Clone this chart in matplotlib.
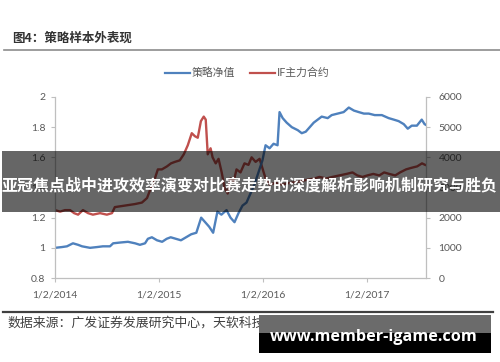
import matplotlib
matplotlib.use("Agg")
import matplotlib.pyplot as plt
import pandas as pd
from matplotlib.patches import Rectangle
from matplotlib.lines import Line2D

CJK = ['Noto Sans CJK SC', 'DejaVu Sans']
plt.rcParams['font.family'] = ['Lato', 'Noto Sans CJK SC', 'DejaVu Sans']

# ---- data -------------------------------------------------------------
nav_dates = [
    "2014-01-02", "2014-01-26", "2014-02-13", "2014-03-06", "2014-03-24", "2014-04-07",
    "2014-05-05", "2014-05-29", "2014-06-19", "2014-07-14", "2014-07-25", "2014-08-18",
    "2014-09-15", "2014-10-10", "2014-10-27", "2014-11-14", "2014-11-24", "2014-12-08",
    "2014-12-26", "2015-01-13", "2015-01-29", "2015-02-12", "2015-03-02", "2015-03-20",
    "2015-04-07", "2015-04-25", "2015-05-13", "2015-05-30", "2015-06-13", "2015-06-27",
    "2015-07-11", "2015-07-26", "2015-08-09", "2015-08-27", "2015-09-10", "2015-09-24",
    "2015-10-08", "2015-10-22", "2015-11-05", "2015-11-19", "2015-12-03", "2015-12-17",
    "2015-12-31", "2016-01-11", "2016-01-25", "2016-02-08", "2016-02-22", "2016-02-29",
    "2016-03-11", "2016-03-25", "2016-04-12", "2016-05-03", "2016-05-17", "2016-05-31",
    "2016-06-14", "2016-06-28", "2016-07-12", "2016-07-26", "2016-08-16", "2016-08-30",
    "2016-09-20", "2016-10-11", "2016-10-29", "2016-11-16", "2016-12-03", "2016-12-21",
    "2017-01-07", "2017-01-28", "2017-02-22", "2017-03-18", "2017-04-05", "2017-04-22",
    "2017-05-10", "2017-05-24", "2017-06-07", "2017-06-25", "2017-07-12", "2017-07-22",
    "2017-07-27",
]
nav_values = [
    1.00, 1.005, 1.01, 1.03, 1.02, 1.01,
    1.00, 1.005, 1.01, 1.01, 1.03, 1.035,
    1.04, 1.03, 1.02, 1.03, 1.06, 1.07,
    1.05, 1.04, 1.06, 1.07, 1.06, 1.05,
    1.07, 1.09, 1.10, 1.20, 1.17, 1.14,
    1.10, 1.24, 1.22, 1.25, 1.20, 1.17,
    1.23, 1.28, 1.30, 1.36, 1.42, 1.50,
    1.58, 1.68, 1.66, 1.69, 1.68, 1.90,
    1.86, 1.83, 1.80, 1.78, 1.76, 1.77,
    1.80, 1.83, 1.85, 1.87, 1.86, 1.88,
    1.89, 1.90, 1.93, 1.91, 1.90, 1.89,
    1.89, 1.88, 1.88, 1.86, 1.85, 1.84,
    1.82, 1.79, 1.81, 1.81, 1.85, 1.82,
    1.815,
]

if_dates = [
    "2014-01-02", "2014-01-20", "2014-02-06", "2014-02-24", "2014-03-10", "2014-03-24",
    "2014-04-10", "2014-04-28", "2014-05-15", "2014-06-09", "2014-07-03", "2014-07-21",
    "2014-07-31", "2014-09-04", "2014-10-09", "2014-11-03", "2014-11-21", "2014-12-01",
    "2014-12-12", "2014-12-22", "2014-12-29", "2015-01-12", "2015-01-30", "2015-02-13",
    "2015-02-27", "2015-03-16", "2015-03-30", "2015-04-13", "2015-04-27", "2015-05-08",
    "2015-05-18", "2015-05-29", "2015-06-08", "2015-06-15", "2015-06-22", "2015-07-02",
    "2015-07-09", "2015-07-20", "2015-07-30", "2015-08-10", "2015-08-20", "2015-08-31",
    "2015-09-10", "2015-09-21", "2015-10-01", "2015-10-15", "2015-10-29", "2015-11-12",
    "2015-11-23", "2015-12-07", "2015-12-21", "2016-01-06", "2016-01-11", "2016-01-25",
    "2016-02-15", "2016-03-07", "2016-04-04", "2016-05-09", "2016-06-02", "2016-06-30",
    "2016-07-18", "2016-08-11", "2016-09-01", "2016-09-26", "2016-10-21", "2016-11-11",
    "2016-11-28", "2016-12-16", "2017-01-02", "2017-01-23", "2017-02-13", "2017-03-02",
    "2017-03-20", "2017-04-10", "2017-04-27", "2017-05-18", "2017-06-05", "2017-06-26",
    "2017-07-13", "2017-07-24",
]
if_values = [
    2250, 2200, 2250, 2250, 2150, 2100,
    2250, 2150, 2100, 2150, 2100, 2150,
    2350, 2400, 2450, 2500, 2650, 2900,
    3100, 3400, 3600, 3600, 3700, 3800,
    3850, 3900, 4100, 4400, 4800, 4700,
    4650, 5200, 5350, 5250, 4100, 4300,
    4000, 3800, 3950, 3500, 3000, 2800,
    3300, 3200, 3600, 3500, 3800, 3750,
    4000, 3850, 3950, 3450, 3300, 3100,
    3150, 3100, 3150, 3200, 3250, 3300,
    3350, 3300, 3350, 3400, 3450, 3500,
    3400, 3350, 3400, 3450, 3400, 3500,
    3450, 3400, 3500, 3600, 3650, 3700,
    3800, 3750,
]

nav_label = "策略净值"
if_label = "IF主力合约"
x_ticks = ["2014-01-02", "2015-01-02", "2016-01-02", "2017-01-02"]
x_tick_labels = ["1/2/2014", "1/2/2015", "1/2/2016", "1/2/2017"]
left_ticks = [0.8, 1.0, 1.2, 1.4, 1.6, 1.8, 2.0]
left_tick_labels = ["0.8", "1", "1.2", "1.4", "1.6", "1.8", "2"]
right_ticks = [0, 1000, 2000, 3000, 4000, 5000, 6000]

title_text = "图4：策略样本外表现"
source_text = "数据来源：广发证券发展研究中心，天软科技"
banner_text = "亚冠焦点战中进攻效率演变对比赛走势的深度解析影响机制研究与胜负"
site_text = "www.member-igame.com"

# ---- figure -------------------------------------------------------------
W, H = 500, 362
fig = plt.figure(figsize=(W / 100, H / 100), dpi=100)
fig.patch.set_facecolor("white")


def fx(px):
    return px / W


def fy(py):
    return 1 - py / H


BLUE = "#4F81BD"
RED = "#C0504D"
AXC = "#BFBFBF"
TXC = "#595959"

ax = fig.add_axes([fx(55), fy(278), fx(426) - fx(55), fy(97) - fy(278)])
ax2 = ax.twinx()

nav_x = pd.to_datetime(nav_dates)
if_x = pd.to_datetime(if_dates)

ax2.plot(if_x, if_values, color=RED, lw=1.7, solid_joinstyle="round")
ax.plot(nav_x, nav_values, color=BLUE, lw=1.7, solid_joinstyle="round")
ax.set_zorder(ax2.get_zorder() + 1)
ax.patch.set_visible(False)

ax.set_xlim(pd.Timestamp("2014-01-02"), pd.Timestamp("2017-07-27"))
ax.set_ylim(0.8, 2.0)
ax2.set_ylim(0, 6000)

ax.set_xticks(pd.to_datetime(x_ticks))
ax.set_xticklabels(x_tick_labels)
ax.set_yticks(left_ticks)
ax.set_yticklabels(left_tick_labels)
ax2.set_yticks(right_ticks)
ax2.set_yticklabels([str(v) for v in right_ticks])

for a in (ax, ax2):
    for s in a.spines.values():
        s.set_color(AXC)
        s.set_linewidth(0.9)
    a.spines["top"].set_visible(False)
ax.spines["right"].set_visible(False)
ax2.spines["left"].set_visible(False)
ax2.spines["bottom"].set_visible(False)

ax.tick_params(axis="both", colors=AXC, labelcolor=TXC, labelsize=7.5,
               length=3, width=0.8, direction="out")
ax.tick_params(axis="x", pad=6)
ax.tick_params(axis="y", pad=4)
ax2.tick_params(axis="y", colors=AXC, labelcolor=TXC, labelsize=7.5,
                length=3, width=0.8, direction="out", pad=6)

# ---- legend ---------------------------------------------------------------
fig.add_artist(Line2D([fx(165), fx(190)], [fy(72.5), fy(72.5)], color=BLUE, lw=1.6))
fig.text(fx(192), fy(72.5), nav_label, family=CJK, fontsize=7.8, color=TXC,
         ha="left", va="center")
fig.add_artist(Line2D([fx(250), fx(275)], [fy(72.5), fy(72.5)], color=RED, lw=1.6))
fig.text(fx(277), fy(72.5), if_label, family=CJK, fontsize=7.8, color=TXC,
         ha="left", va="center")

# ---- title and source -----------------------------------------------------
fig.text(fx(12), fy(38.5), title_text, family=CJK, fontsize=9, fontweight="bold",
         color="#333333", ha="left", va="center")
fig.add_artist(Line2D([fx(4), fx(500)], [fy(50), fy(50)], color="#8c8c8c", lw=1.2))
fig.add_artist(Line2D([fx(3), fx(493)], [fy(311.5), fy(311.5)], color="#404040", lw=1.6))
fig.text(fx(7), fy(323), source_text, family=CJK, fontsize=9.3, color="#404040",
         ha="left", va="center")

# ---- overlay banner -------------------------------------------------------
fig.add_artist(Rectangle((fx(2), fy(212)), fx(500) - fx(2), (212 - 151) / H,
                         transform=fig.transFigure, facecolor="black", alpha=0.6,
                         edgecolor="none", zorder=5))
fig.text(0.5, fy(185), banner_text, family=CJK, fontsize=11.5, fontweight="bold",
         color="white", ha="center", va="center", zorder=6)

# ---- site badge -----------------------------------------------------------
fig.add_artist(Rectangle((fx(259), fy(333)), fx(491) - fx(259), (333 - 315) / H,
                         transform=fig.transFigure, facecolor="#6b6b6b",
                         edgecolor="none", zorder=5))
fig.add_artist(Rectangle((fx(259), fy(353)), fx(491) - fx(259), (353 - 333) / H,
                         transform=fig.transFigure, facecolor="black",
                         edgecolor="none", zorder=5))
fig.text(fx(374), fy(337), site_text, family=["Open Sans", "DejaVu Sans"],
         fontsize=11.7, fontweight="bold", color="white", ha="center", va="center",
         zorder=6)

fig.savefig("out.png", dpi=100)
